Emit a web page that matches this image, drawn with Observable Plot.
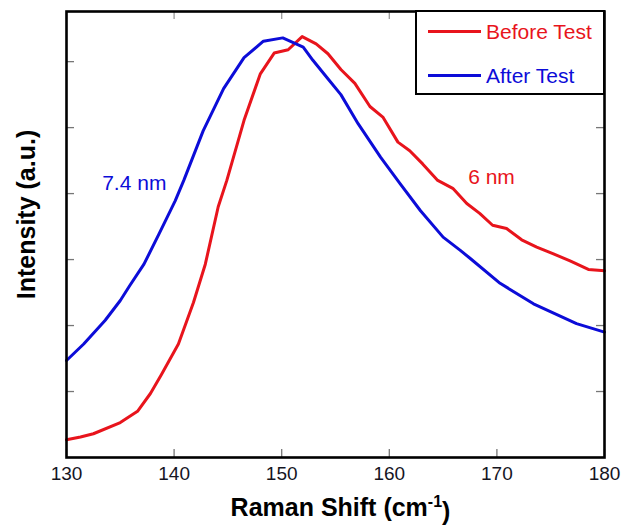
<!DOCTYPE html>
<html><head><meta charset="utf-8">
<script src="https://cdn.jsdelivr.net/npm/d3@7"></script>
<script src="https://cdn.jsdelivr.net/npm/@observablehq/plot@0.6"></script>
<style>
body{margin:0;background:#fff;font-family:"Liberation Sans",Arial,sans-serif;}
#wrap{position:relative;width:621px;height:528px;}
#legend{position:absolute;left:415px;top:10px;width:190px;height:85px;border:2px solid #000;box-sizing:border-box;background:#fff;}
.sw{position:absolute;left:11px;width:53px;height:0;border-top:3px solid;}
.lt{position:absolute;left:69px;font-size:21px;line-height:21px;}
</style>
</head><body>
<div id="wrap"><div id="chart"></div>
<div id="legend"></div></div>
<script>
const series = ["Before Test", "After Test"];
const colors = ["#e8141c", "#0c0cd8"];

const ramanBefore = [130,131.3,132.5,135.0,136.6,137.8,138.8,140.4,141.8,142.9,144.1,144.9,146.5,148.0,149.3,150.6,151.9,153.2,154.3,155.5,156.8,158.2,159.4,160.8,161.9,163.1,164.5,165.9,167.2,168.4,169.6,170.9,172.3,173.7,175.2,176.8,178.5,180];
const intensityBefore = [0.27,0.31,0.36,0.53,0.70,0.97,1.25,1.72,2.35,2.93,3.80,4.20,5.11,5.81,6.13,6.18,6.38,6.27,6.12,5.88,5.67,5.32,5.16,4.78,4.65,4.45,4.20,4.08,3.85,3.70,3.52,3.47,3.30,3.19,3.09,2.98,2.85,2.83];

const ramanAfter = [130,131.6,133.6,135.0,135.9,137.2,138.6,140.1,140.9,142.7,144.6,146.5,148.3,150.1,152.0,152.9,154.2,155.5,157.1,159.2,161.0,162.9,165.0,166.6,167.5,170.3,173.4,177.4,180];
const intensityAfter = [1.47,1.72,2.08,2.38,2.61,2.93,3.39,3.89,4.20,4.95,5.59,6.06,6.31,6.36,6.22,6.02,5.76,5.50,5.06,4.55,4.15,3.74,3.34,3.14,3.02,2.64,2.33,2.03,1.90];

const xTicks = [130,140,150,160,170,180];
const yTicks = [1,2,3,4,5,6];

const annotations = [
  {x: 136.3, y: 4.15, text: "7.4 nm", series: "After Test"},
  {x: 169.5, y: 4.24, text: "6 nm", series: "Before Test"}
];

const data = [
  ...ramanBefore.map((x, i) => ({series: series[0], x, y: intensityBefore[i]})),
  ...ramanAfter.map((x, i) => ({series: series[1], x, y: intensityAfter[i]}))
];

const W = 621, H = 528, mL = 66, mR = 17, mT = 11, mB = 71;
const plotH = H - mT - mB, plotW = W - mL - mR, tl = 8;

const chart = Plot.plot({
  width: W, height: H,
  marginLeft: mL, marginRight: mR, marginTop: mT, marginBottom: mB,
  style: {fontFamily: "'Liberation Sans', Arial, sans-serif", background: "#fff"},
  x: {domain: [130, 180], axis: null},
  y: {domain: [0, 6.76], axis: null},
  color: {domain: series, range: colors},
  marks: [
    Plot.ruleX(xTicks, {x: d => d, insetTop: plotH - tl, stroke: "#777", strokeWidth: 1.3}),
    Plot.ruleX(xTicks, {x: d => d, insetBottom: plotH - tl, stroke: "#999", strokeWidth: 1.3}),
    Plot.ruleY(yTicks, {y: d => d, insetRight: plotW - tl, stroke: "#777", strokeWidth: 1.3}),
    Plot.ruleY(yTicks, {y: d => d, insetLeft: plotW - tl, stroke: "#777", strokeWidth: 1.3}),
    Plot.line(data, {x: "x", y: "y", z: "series", stroke: "series", strokeWidth: 3, curve: "linear"}),
    Plot.text(annotations, {x: "x", y: "y", text: "text", fill: "series", fontSize: 21}),
    Plot.frame({stroke: "#000", strokeWidth: 2.6}),
    Plot.axisX(xTicks, {tickSize: 0, tickPadding: 9, fontSize: 19, fill: "#15151f", label: null}),
    Plot.text(["Raman Shift (cm"], {frameAnchor: "bottom", dy: 50, dx: 5, fontSize: 25, fontWeight: "bold", fill: "#000", lineAnchor: "middle"}),
    Plot.text(["Intensity (a.u.)"], {frameAnchor: "left", textAnchor: "middle", dx: -40, dy: -20, rotate: -90, fontSize: 25, fontWeight: "bold", fill: "#000", lineAnchor: "middle"})
  ]
});
document.getElementById("chart").appendChild(chart);

// superscript on x title
d3.select(chart).selectAll("text").filter(function(){ return this.textContent === "Raman Shift (cm"; })
  .each(function(){
    const t = d3.select(this);
    t.append("tspan").attr("dy", "-0.55em").attr("font-size", "16").text("-1");
    t.append("tspan").attr("dy", "0.55em").text(")");
  });

const leg = document.getElementById("legend");
series.forEach((s, i) => {
  const top = i === 0 ? 19 : 63;
  const sw = document.createElement("div");
  sw.className = "sw"; sw.style.top = (top - 1) + "px"; sw.style.borderColor = colors[i];
  leg.appendChild(sw);
  const t = document.createElement("div");
  t.className = "lt"; t.style.top = (top - 10) + "px"; t.style.color = colors[i];
  t.textContent = s;
  leg.appendChild(t);
});
</script>
</body></html>
